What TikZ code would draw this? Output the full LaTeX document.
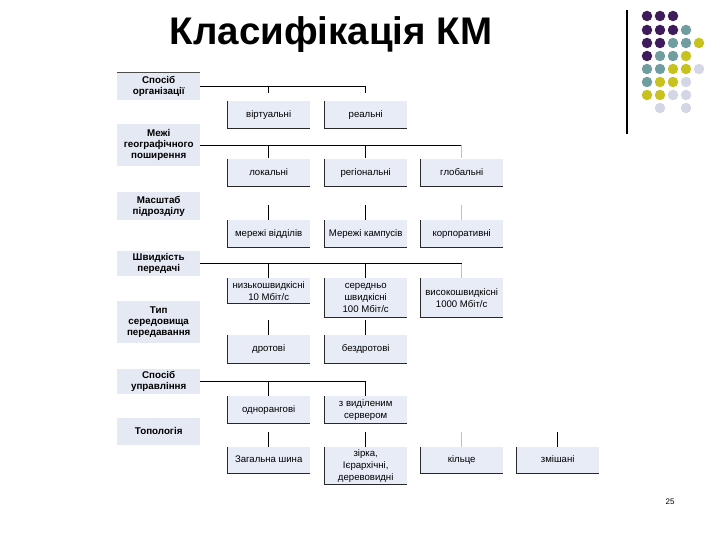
\documentclass[tikz,border=0pt]{standalone}
\usepackage{fontspec}
\setmainfont{Liberation Sans}
\definecolor{boxfill}{RGB}{231,236,246}
\definecolor{catfill}{RGB}{229,233,243}
\definecolor{edgecol}{RGB}{40,40,40}
\definecolor{dpurple}{RGB}{62,28,92}
\definecolor{dteal}{RGB}{112,158,160}
\definecolor{dyellow}{RGB}{200,194,30}
\definecolor{dlav}{RGB}{212,214,230}
\begin{document}
\begin{tikzpicture}[x=1pt,y=-1pt,
  cat/.style={fill=catfill, minimum width=83pt, inner sep=0pt, anchor=north west,
    align=center, font=\fontsize{9.8}{11}\selectfont\bfseries},
  leaf/.style={fill=boxfill, minimum width=83pt, inner sep=0pt, anchor=north west,
    align=center, font=\fontsize{9.6}{12}\selectfont},
  oneline/.style={text height=7pt, text depth=2.2pt},
  edge/.style={draw=edgecol, line width=0.9pt},
  conn/.style={draw=black, line width=0.9pt},
  faint/.style={draw=black!25, line width=0.9pt},
  dot/.style={circle, inner sep=0pt, minimum size=10.5pt}]
\useasboundingbox (0,0) rectangle (720,540);

% title
\node[anchor=base, font=\fontsize{38.5}{40}\selectfont\bfseries] (title) at (331,45) {Класифікація КМ};

% decoration
\coordinate (dtop) at (627,10);
\coordinate (dbot) at (627,134);
\draw[line width=1.1pt] (dtop) -- (dbot);
\foreach \c/\x/\y in {
 dpurple/647/16, dpurple/660/16, dpurple/673/16,
 dpurple/647/30, dpurple/660/30, dpurple/673/30, dteal/686/30,
 dpurple/647/43, dpurple/660/43, dteal/673/43, dteal/686/43, dyellow/699/43,
 dpurple/647/56, dteal/660/56, dteal/673/56, dyellow/686/56,
 dteal/647/69, dteal/660/69, dyellow/673/69, dyellow/686/69, dlav/699/69,
 dteal/647/82, dyellow/660/82, dyellow/673/82, dlav/686/82,
 dyellow/647/95, dyellow/660/95, dlav/673/95, dlav/686/95,
 dlav/660/108, dlav/686/108}
 \node[dot, fill=\c] at (\x,\y) {};

% categories
\node[cat, minimum height=28pt] (c1) at (117,72) {Спосіб\\організації};
\node[cat, minimum height=42pt] (c2) at (117,124) {Межі\\географічного\\поширення};
\node[cat, minimum height=28pt] (c3) at (117,192) {Масштаб\\підрозділу};
\node[cat, minimum height=25pt] (c4) at (117,251) {Швидкість\\передачі};
\node[cat, minimum height=42pt] (c5) at (117,301) {Тип\\середовища\\передавання};
\node[cat, minimum height=25pt] (c6) at (117,369) {Спосіб\\управління};
\node[cat, oneline, minimum height=27pt] (c7) at (117,418) {Топологія};
\draw[draw=black!70, line width=0.9pt] (c1.north west) -- (c1.north east);

% leaves
\node[leaf, oneline, minimum height=27pt] (v1) at (227,101) {віртуальні};
\node[leaf, oneline, minimum height=27pt] (v2) at (324,101) {реальні};

\node[leaf, oneline, minimum height=27pt] (g1) at (227,159) {локальні};
\node[leaf, oneline, minimum height=27pt] (g2) at (324,159) {регіональні};
\node[leaf, oneline, minimum height=27pt] (g3) at (420,159) {глобальні};

\node[leaf, oneline, minimum height=27pt] (m1) at (227,220) {мережі відділів};
\node[leaf, oneline, minimum height=27pt] (m2) at (324,220) {Мережі кампусів};
\node[leaf, oneline, minimum height=27pt] (m3) at (420,220) {корпоративні};

\node[leaf, minimum height=25pt] (s1) at (227,278) {низькошвидкісні\\10 Мбіт/с};
\node[leaf, minimum height=39pt] (s2) at (324,278) {середньо\\швидкісні\\100 Мбіт/с};
\node[leaf, minimum height=39pt] (s3) at (420,278) {високошвидкісні\\1000 Мбіт/с};

\node[leaf, oneline, minimum height=28pt] (t1) at (227,335) {дротові};
\node[leaf, oneline, minimum height=28pt] (t2) at (324,335) {бездротові};

\node[leaf, oneline, minimum height=27pt] (u1) at (227,396) {однорангові};
\node[leaf, minimum height=27pt] (u2) at (324,396) {з виділеним\\сервером};

\node[leaf, oneline, minimum height=26pt] (p1) at (227,447) {Загальна шина};
\node[leaf, minimum height=37pt] (p2) at (324,447) {зірка,\\Ієрархічні,\\деревовидні};
\node[leaf, oneline, minimum height=26pt] (p3) at (420,447) {кільце};
\node[leaf, oneline, minimum height=26pt] (p4) at (516,447) {змішані};

\foreach \n in {v1,v2,g1,g2,g3,m1,m2,m3,s1,s2,s3,t1,t2,u1,u2,p1,p2,p3,p4}
  \draw[edge] (\n.north west) -- (\n.south west) -- (\n.south east);

% connectors
\draw[conn] (c1.east) -| ([yshift=8pt]v2.north);
\draw[conn] (c1.east -| v1.north) -- ([yshift=8pt]v1.north);

\draw[conn] (c2.east) -- (c2.east -| g3.north);
\draw[conn] (c2.east -| g1.north) -- ([yshift=1pt]g1.north);
\draw[conn] (c2.east -| g2.north) -- ([yshift=1pt]g2.north);
\draw[faint] (c2.east -| g3.north) -- ([yshift=1pt]g3.north);

\draw[conn] ([yshift=15pt]m1.north) -- (m1.north);
\draw[conn] ([yshift=15pt]m2.north) -- (m2.north);
\draw[faint] ([yshift=15pt]m3.north) -- (m3.north);

\draw[conn] (c4.east) -- (c4.east -| s3.north);
\draw[conn] (c4.east -| s1.north) -- (s1.north);
\draw[conn] (c4.east -| s2.north) -- (s2.north);
\draw[faint] (c4.east -| s3.north) -- (s3.north);

\draw[conn] ([yshift=15pt]t1.north) -- (t1.north);
\draw[conn] ([yshift=15pt]t2.north) -- (t2.north);

\draw[conn] (c6.east) -| (u2.north);
\draw[conn] (c6.east -| u1.north) -- (u1.north);

\draw[conn] ([yshift=15pt]p1.north) -- (p1.north);
\draw[conn] ([yshift=15pt]p2.north) -- (p2.north);
\draw[faint] ([yshift=15pt]p3.north) -- (p3.north);
\draw[conn] ([yshift=15pt]p4.north) -- (p4.north);

% page number
\node[font=\fontsize{8}{10}\selectfont] (pg) at (670,502) {25};
\end{tikzpicture}
\end{document}
